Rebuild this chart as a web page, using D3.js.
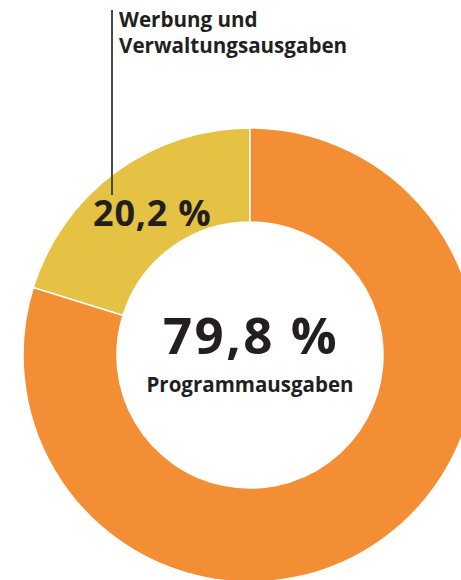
<!DOCTYPE html>
<html>
<head>
<meta charset="utf-8">
<script src="https://cdn.jsdelivr.net/npm/d3@7"></script>
<style>
  html, body { margin: 0; padding: 0; background: #fff; }
  svg { display: block; }
  text { font-family: 'Open Sans', 'Noto Sans', sans-serif; font-weight: 700; fill: #231f20; }
</style>
</head>
<body>
<div id="chart"></div>
<script>
const categories = ['Werbung und Verwaltungsausgaben', 'Programmausgaben']
const values = [20.2, 79.8]
const colors = ['#e5c244', '#f48e35']

const width = 461
const height = 580
const cx = 250
const cy = 355
const outerRadius = 227
const innerRadius = 133

const fmt = v => `${String(v).replace('.', ',')} %`

const svg = d3
  .select('#chart')
  .append('svg')
  .attr('width', width)
  .attr('height', height)

const data = categories.map((c, i) => ({ name: c, value: values[i], color: colors[i] }))

// small slice goes counter-clockwise from 12 o'clock
const offset = 2 * Math.PI * (values[0] / d3.sum(values))
const pie = d3
  .pie()
  .sort(null)
  .value(d => d.value)
  .startAngle(-offset)
  .endAngle(2 * Math.PI - offset)

const arc = d3.arc().innerRadius(innerRadius).outerRadius(outerRadius)

const g = svg.append('g').attr('transform', `translate(${cx},${cy})`)

g.selectAll('path')
  .data(pie(data))
  .join('path')
  .attr('d', arc)
  .attr('fill', d => d.data.color)
  .attr('stroke', '#fff')
  .attr('stroke-width', 1.5)

// leader line for the small slice
svg
  .append('line')
  .attr('x1', 112)
  .attr('x2', 112)
  .attr('y1', 10)
  .attr('y2', 195)
  .attr('stroke', '#4a4a4a')
  .attr('stroke-width', 2)

const label = svg
  .append('text')
  .attr('x', 119)
  .attr('y', 27)
  .style('font-size', '20.6px')
label.append('tspan').attr('x', 119).text('Werbung und')
label.append('tspan').attr('x', 119).attr('dy', 26).text('Verwaltungsausgaben')

svg
  .append('text')
  .attr('x', 93)
  .attr('y', 226)
  .style('font-size', '36px')
  .style('letter-spacing', '0.8px')
  .text(fmt(values[0]))

svg
  .append('text')
  .attr('x', cx + 1)
  .attr('y', 354)
  .attr('text-anchor', 'middle')
  .style('font-size', '51px')
  .style('letter-spacing', '2.5px')
  .text(fmt(values[1]))

svg
  .append('text')
  .attr('x', cx)
  .attr('y', 392)
  .attr('text-anchor', 'middle')
  .style('font-size', '20.5px')
  .text(categories[1])
</script>
</body>
</html>
